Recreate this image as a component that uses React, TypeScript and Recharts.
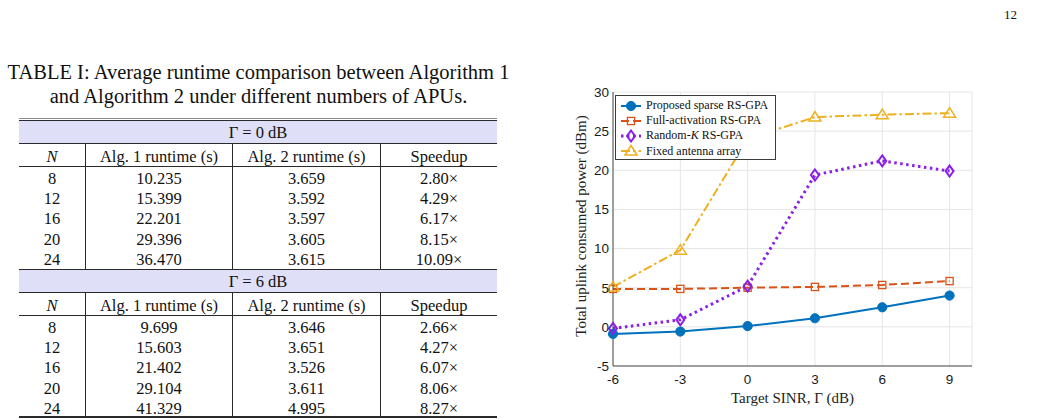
import React from "react";
import { CartesianGrid, Legend, Line, LineChart, XAxis, YAxis } from "recharts";

// Uplink power vs. target SINR
const snrDb = [-6, -3, 0, 3, 6, 9];
const proposedSparse = [-0.9, -0.6, 0.1, 1.1, 2.5, 4.0];
const fullActivation = [4.85, 4.85, 5.0, 5.1, 5.35, 5.85];
const randomK = [-0.2, 0.9, 5.2, 19.4, 21.2, 19.9];
const fixedArray = [5.1, 9.8, 24.0, 26.8, 27.1, 27.3];

const xTicks = [-6, -3, 0, 3, 6, 9];
const yTicks = [-5, 0, 5, 10, 15, 20, 25, 30];

// Runtime table
const apuCounts = [8, 12, 16, 20, 24];
const alg1Gamma0 = [10.235, 15.399, 22.201, 29.396, 36.47];
const alg2Gamma0 = [3.659, 3.592, 3.597, 3.605, 3.615];
const speedupGamma0 = [2.8, 4.29, 6.17, 8.15, 10.09];
const alg1Gamma6 = [9.699, 15.603, 21.402, 29.104, 41.329];
const alg2Gamma6 = [3.646, 3.651, 3.526, 3.611, 4.995];
const speedupGamma6 = [2.66, 4.27, 6.07, 8.06, 8.27];

const chartData = snrDb.map((snr, i) => ({
  snr,
  proposed: proposedSparse[i],
  full: fullActivation[i],
  randomK: randomK[i],
  fixed: fixedArray[i],
}));

const SERIF = '"Liberation Serif", "Times New Roman", serif';
const SANS = '"Liberation Sans", Arial, sans-serif';

type Marker = "circle" | "square" | "diamond" | "triangle";

const series: {
  key: string;
  label: React.ReactNode;
  color: string;
  width: number;
  dash?: string;
  marker: Marker;
}[] = [
  { key: "proposed", label: "Proposed sparse RS-GPA", color: "#0072bd", width: 2, marker: "circle" },
  { key: "full", label: "Full-activation RS-GPA", color: "#d95319", width: 2, dash: "8 4", marker: "square" },
  {
    key: "randomK",
    label: (
      <>
        Random-<i>K</i> RS-GPA
      </>
    ),
    color: "#8a1fe6",
    width: 3,
    dash: "2.5 3.5",
    marker: "diamond",
  },
  { key: "fixed", label: "Fixed antenna array", color: "#edb120", width: 2, dash: "9 3 2.5 3", marker: "triangle" },
];

function markerShape(kind: Marker, cx: number, cy: number, color: string, key?: string) {
  switch (kind) {
    case "circle":
      return <circle key={key} cx={cx} cy={cy} r={4.6} fill={color} stroke={color} />;
    case "square":
      return (
        <rect key={key} x={cx - 3.6} y={cy - 3.6} width={7.2} height={7.2} fill="none" stroke={color} strokeWidth={1.3} />
      );
    case "diamond":
      return (
        <path
          key={key}
          d={`M${cx},${cy - 5.5} L${cx + 4},${cy} L${cx},${cy + 5.5} L${cx - 4},${cy} Z`}
          fill="none"
          stroke={color}
          strokeWidth={2}
        />
      );
    default:
      return (
        <path
          key={key}
          d={`M${cx},${cy - 5.5} L${cx + 6},${cy + 4} L${cx - 6},${cy + 4} Z`}
          fill="none"
          stroke={color}
          strokeWidth={1.5}
        />
      );
  }
}

const dotFor = (kind: Marker, color: string) => (p: any) =>
  markerShape(kind, p.cx, p.cy, color, `${kind}-${p.index}`);

function ChartLegend() {
  return (
    <div
      style={{
        border: "1px solid #3c3c3c",
        background: "#fff",
        padding: "2px 7px 0 4px",
        fontFamily: SERIF,
        fontSize: 12,
        lineHeight: "15.2px",
        color: "#111",
        whiteSpace: "nowrap",
      }}
    >
      {series.map((s) => (
        <div key={s.key} style={{ display: "flex", alignItems: "center", height: 15.2 }}>
          <svg width={22} height={14} style={{ marginRight: 4 }}>
            <line x1={1} x2={21} y1={7} y2={7} stroke={s.color} strokeWidth={s.width} strokeDasharray={s.dash} />
            {markerShape(s.marker, 11, 7, s.color)}
          </svg>
          <span>{s.label}</span>
        </div>
      ))}
    </div>
  );
}

function PowerChart() {
  const axisTick = { fill: "#1a1a1a", fontSize: 13.5, fontFamily: SANS };
  return (
    <LineChart width={440} height={359} data={chartData} margin={{ top: 32, right: 28, left: 0, bottom: 0 }}>
      <CartesianGrid stroke="#e6e6e6" />
      <XAxis
        dataKey="snr"
        type="number"
        domain={[-6, 10]}
        ticks={xTicks}
        interval={0}
        height={53}
        tickLine={false}
        tickSize={0}
        tickMargin={8}
        tick={axisTick}
        axisLine={{ stroke: "#4a4a4a" }}
        label={{
          value: "Target SINR, Γ (dB)",
          position: "insideBottom",
          offset: 16,
          fill: "#222",
          fontSize: 15,
          fontFamily: SERIF,
        }}
      />
      <YAxis
        type="number"
        domain={[-5, 30]}
        ticks={yTicks}
        interval={0}
        width={53}
        tickLine={false}
        tickSize={0}
        tickMargin={4}
        tick={axisTick}
        axisLine={{ stroke: "#4a4a4a" }}
        label={{
          content: (props: any) => {
            const vb = props.viewBox || { x: 0, y: 32, width: 53, height: 274 };
            const x = vb.x + 21;
            const y = vb.y + vb.height / 2 - 3;
            return (
              <text
                x={x}
                y={y}
                transform={`rotate(-90, ${x}, ${y})`}
                textAnchor="middle"
                dominantBaseline="central"
                fill="#222"
                fontSize={15}
                fontFamily={SERIF}
              >
                Total uplink consumed power (dBm)
              </text>
            );
          },
        }}
      />
      {/* box edges and inward tick marks */}
      <XAxis
        xAxisId="top"
        orientation="top"
        type="number"
        domain={[-6, 10]}
        ticks={xTicks}
        interval={0}
        height={0}
        mirror
        tick={false}
        tickSize={4}
        tickLine={{ stroke: "#666" }}
        axisLine={{ stroke: "#777" }}
      />
      <XAxis
        xAxisId="bottomInner"
        orientation="bottom"
        type="number"
        domain={[-6, 10]}
        ticks={xTicks}
        interval={0}
        height={0}
        mirror
        tick={false}
        tickSize={4}
        tickLine={{ stroke: "#666" }}
        axisLine={false}
      />
      <YAxis
        yAxisId="leftInner"
        orientation="left"
        type="number"
        domain={[-5, 30]}
        ticks={yTicks}
        interval={0}
        width={0}
        mirror
        tick={false}
        tickSize={4}
        tickLine={{ stroke: "#666" }}
        axisLine={false}
      />
      <YAxis
        yAxisId="right"
        orientation="right"
        type="number"
        domain={[-5, 30]}
        ticks={yTicks}
        interval={0}
        width={0}
        mirror
        tick={false}
        tickSize={4}
        tickLine={{ stroke: "#666" }}
        axisLine={{ stroke: "#999", strokeWidth: 1.4 }}
      />
      {series.map((s) => (
        <Line
          key={s.key}
          dataKey={s.key}
          type="linear"
          stroke={s.color}
          strokeWidth={s.width}
          strokeDasharray={s.dash}
          dot={dotFor(s.marker, s.color)}
          activeDot={false}
          isAnimationActive={false}
        />
      ))}
      <Legend
        layout="vertical"
        align="center"
        verticalAlign="middle"
        content={() => <ChartLegend />}
        wrapperStyle={{ left: 55, top: 35, width: "auto", height: "auto" }}
      />
    </LineChart>
  );
}

// table drawn from stacked rows so every rule lands on a fixed pixel
const colWidths = [66, 147, 148, 117];
const RULE = "#2a2a2a";

function Row({ top, height, cells, divided }: { top: number; height: number; cells: React.ReactNode[]; divided: boolean }) {
  return (
    <div style={{ position: "absolute", left: 0, top, height, width: 478, display: "flex" }}>
      {cells.map((c, j) => (
        <div
          key={j}
          style={{
            width: colWidths[j],
            boxSizing: "border-box",
            borderLeft: divided && j ? `1px solid ${RULE}` : "none",
            textAlign: "center",
            lineHeight: `${height}px`,
          }}
        >
          <span style={{ position: "relative", top: 1.5 }}>{c}</span>
        </div>
      ))}
    </div>
  );
}

function HLine({ top, h = 1 }: { top: number; h?: number }) {
  return <div style={{ position: "absolute", left: 0, top, width: 478, height: h, background: RULE }} />;
}

function TableBlock({ top, gamma, alg1, alg2, speedup }: { top: number; gamma: string; alg1: number[]; alg2: number[]; speedup: number[] }) {
  const rowH = 20.4;
  return (
    <>
      <div
        style={{
          position: "absolute",
          left: 0,
          top,
          width: 478,
          height: 22,
          background: "#dfdff8",
          textAlign: "center",
          lineHeight: "24px",
        }}
      >
        Γ = {gamma} dB
      </div>
      <HLine top={top + 22} />
      <Row
        top={top + 23}
        height={22}
        divided
        cells={[<i key="n">N</i>, "Alg. 1 runtime (s)", "Alg. 2 runtime (s)", "Speedup"]}
      />
      <HLine top={top + 45} />
      {apuCounts.map((n, i) => (
        <Row
          key={n}
          top={top + 46 + i * rowH}
          height={rowH}
          divided
          cells={[String(n), alg1[i].toFixed(3), alg2[i].toFixed(3), `${speedup[i].toFixed(2)}×`]}
        />
      ))}
    </>
  );
}

function RuntimeTable() {
  return (
    <div
      style={{
        position: "absolute",
        left: 19,
        top: 0,
        width: 478,
        height: 419,
        fontFamily: SERIF,
        fontSize: 16.5,
        color: "#111",
      }}
    >
      <div style={{ position: "absolute", left: 0, top: 118, width: 478, height: 1, background: "#8a8a8a" }} />
      <HLine top={120} />
      <TableBlock top={121} gamma="0" alg1={alg1Gamma0} alg2={alg2Gamma0} speedup={speedupGamma0} />
      <HLine top={269} />
      <TableBlock top={270} gamma="6" alg1={alg1Gamma6} alg2={alg2Gamma6} speedup={speedupGamma6} />
      <HLine top={416} h={2} />
    </div>
  );
}

export default function App() {
  return (
    <div
      style={{
        position: "absolute",
        left: 0,
        top: 0,
        width: 1041,
        height: 419,
        background: "#fff",
        fontFamily: SERIF,
        color: "#111",
        overflow: "hidden",
      }}
    >
      <div style={{ position: "absolute", left: 1004, top: 7, fontSize: 13 }}>12</div>
      <div
        style={{
          position: "absolute",
          left: 0,
          top: 60,
          width: 517,
          textAlign: "center",
          fontSize: 20.5,
          lineHeight: "24px",
        }}
      >
        TABLE I: Average runtime comparison between Algorithm 1
        <br />
        and Algorithm 2 under different numbers of APUs.
      </div>
      <RuntimeTable />
      <div style={{ position: "absolute", left: 560, top: 60 }}>
        <PowerChart />
      </div>
    </div>
  );
}
